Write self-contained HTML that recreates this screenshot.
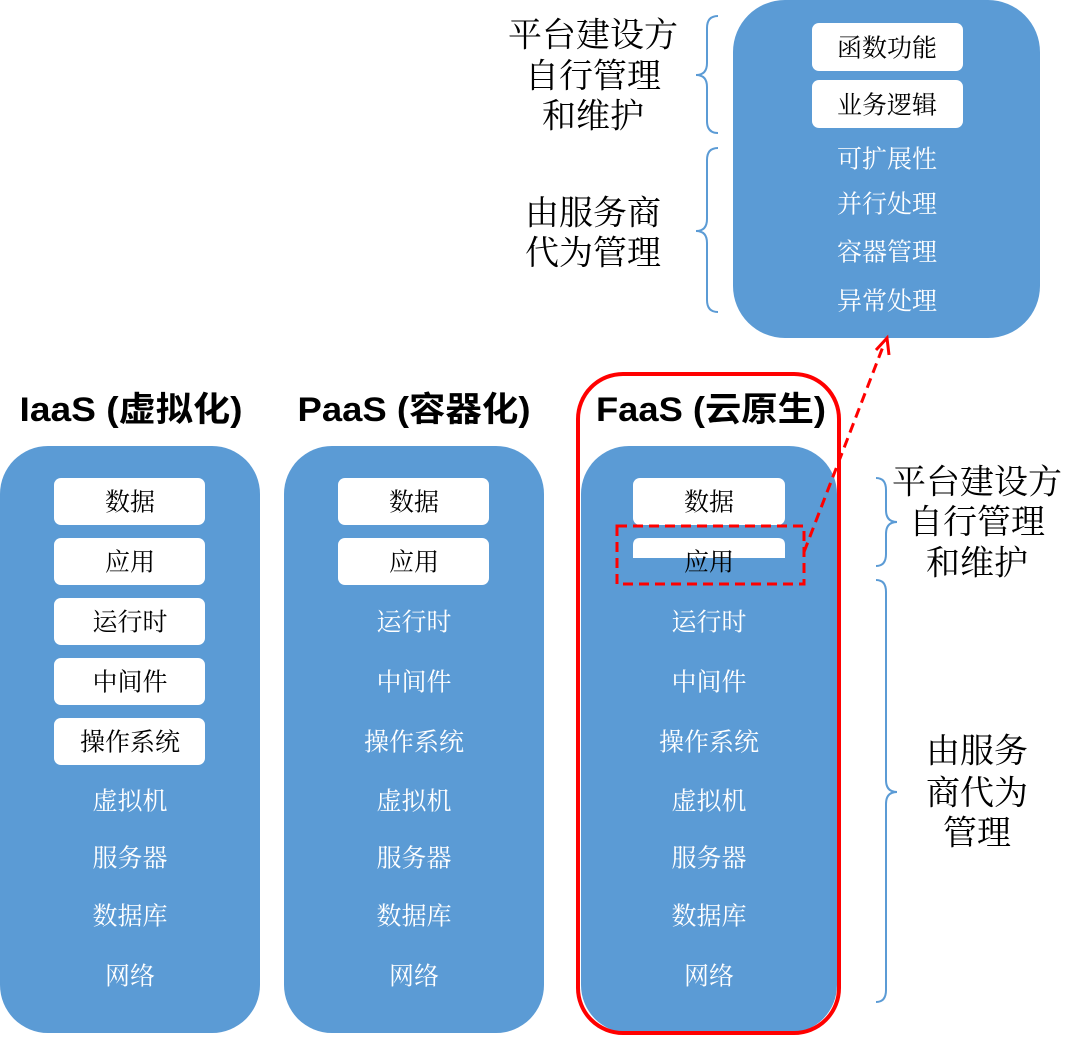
<!DOCTYPE html>
<html><head><meta charset="utf-8"><style>
html,body{margin:0;padding:0;background:#fff;}
svg text{font-family:"Liberation Serif","Noto Serif CJK SC","Noto Sans CJK SC",serif;}
.w{fill:#fff;font-size:25px;text-anchor:middle;dominant-baseline:central;}
.b{fill:#000;font-size:25px;text-anchor:middle;dominant-baseline:central;}
.t{fill:#000;font-size:34px;text-anchor:middle;font-weight:bold;font-family:"Liberation Sans","Noto Sans CJK SC",sans-serif;dominant-baseline:central;}
.l{fill:#000;font-size:34px;text-anchor:middle;dominant-baseline:central;}
</style></head><body>
<svg width="1080" height="1036" viewBox="0 0 1080 1036" xmlns="http://www.w3.org/2000/svg">
<rect x="733" y="0" width="307" height="338" rx="52" fill="#5b9bd5"/>
<rect x="812" y="23" width="151" height="48" rx="7" fill="#fff"/>
<rect x="812" y="80" width="151" height="48" rx="7" fill="#fff"/>
<g transform="translate(0,2)">
<text class="b" x="887" y="47">函数功能</text>
<text class="b" x="887" y="104">业务逻辑</text>
<text class="w" x="887" y="158">可扩展性</text>
<text class="w" x="887" y="203">并行处理</text>
<text class="w" x="887" y="251">容器管理</text>
<text class="w" x="887" y="300">异常处理</text>
<text class="l" x="593" y="34">平台建设方</text>
<text class="l" x="593" y="75">自行管理</text>
<text class="l" x="593" y="115">和维护</text>
<text class="l" x="593" y="212">由服务商</text>
<text class="l" x="593" y="252">代为管理</text>
</g>
<path d="M718 16 Q707 16 707 28 L707 63 Q707 75 696 75 Q707 75 707 87 L707 121 Q707 133 718 133" fill="none" stroke="#5b9bd5" stroke-width="2"/>
<path d="M718 148 Q707 148 707 160 L707 219 Q707 231 696 231 Q707 231 707 243 L707 300 Q707 312 718 312" fill="none" stroke="#5b9bd5" stroke-width="2"/>
<text class="t" x="131" y="410" textLength="223" lengthAdjust="spacingAndGlyphs">IaaS (虚拟化)</text>
<text class="t" x="414" y="410" textLength="233" lengthAdjust="spacingAndGlyphs">PaaS (容器化)</text>
<text class="t" x="711" y="410" textLength="230" lengthAdjust="spacingAndGlyphs">FaaS (云原生)</text>
<rect x="0" y="446" width="260" height="587" rx="48" fill="#5b9bd5"/>
<rect x="284" y="446" width="260" height="587" rx="48" fill="#5b9bd5"/>
<rect x="581" y="446" width="256" height="587" rx="48" fill="#5b9bd5"/>
<rect x="578" y="374" width="261" height="659" rx="45" fill="none" stroke="#f00" stroke-width="4"/>
<g fill="#fff">
<rect x="54" y="478" width="151" height="47" rx="7"/>
<rect x="54" y="538" width="151" height="47" rx="7"/>
<rect x="54" y="598" width="151" height="47" rx="7"/>
<rect x="54" y="658" width="151" height="47" rx="7"/>
<rect x="54" y="718" width="151" height="47" rx="7"/>
<rect x="338" y="478" width="151" height="47" rx="7"/>
<rect x="338" y="538" width="151" height="47" rx="7"/>
<rect x="633" y="478" width="152" height="47" rx="7"/>
<path d="M633 558 L633 545 Q633 538 640 538 L778 538 Q785 538 785 545 L785 558 Z"/>
</g>
<g transform="translate(0,2)">
<text class="b" x="130" y="501">数据</text>
<text class="b" x="130" y="561">应用</text>
<text class="b" x="130" y="621">运行时</text>
<text class="b" x="130" y="681">中间件</text>
<text class="b" x="130" y="741">操作系统</text>
<text class="w" x="130" y="800">虚拟机</text>
<text class="w" x="130" y="857">服务器</text>
<text class="w" x="130" y="915">数据库</text>
<text class="w" x="130" y="975">网络</text>
<text class="b" x="414" y="501">数据</text>
<text class="b" x="414" y="561">应用</text>
<text class="w" x="414" y="621">运行时</text>
<text class="w" x="414" y="681">中间件</text>
<text class="w" x="414" y="741">操作系统</text>
<text class="w" x="414" y="800">虚拟机</text>
<text class="w" x="414" y="857">服务器</text>
<text class="w" x="414" y="915">数据库</text>
<text class="w" x="414" y="975">网络</text>
<text class="b" x="709" y="501">数据</text>
<text class="b" x="709" y="561">应用</text>
<text class="w" x="709" y="621">运行时</text>
<text class="w" x="709" y="681">中间件</text>
<text class="w" x="709" y="741">操作系统</text>
<text class="w" x="709" y="800">虚拟机</text>
<text class="w" x="709" y="857">服务器</text>
<text class="w" x="709" y="915">数据库</text>
<text class="w" x="709" y="975">网络</text>
<text class="l" x="977" y="481">平台建设方</text>
<text class="l" x="977" y="521">自行管理</text>
<text class="l" x="977" y="562">和维护</text>
<text class="l" x="977" y="750">由服务</text>
<text class="l" x="977" y="792">商代为</text>
<text class="l" x="977" y="832">管理</text>
</g>
<rect x="617" y="526" width="187" height="58" fill="none" stroke="#f00" stroke-width="3" stroke-dasharray="10,6"/>
<line x1="804" y1="552" x2="884" y2="344" stroke="#f00" stroke-width="3" stroke-dasharray="10,6"/>
<path d="M876 350 L887 338 L889 355" fill="none" stroke="#f00" stroke-width="3"/>
<path d="M876 478 Q886 478 886 490 L886 510 Q886 522 897 522 Q886 522 886 534 L886 554 Q886 566 876 566" fill="none" stroke="#5b9bd5" stroke-width="2"/>
<path d="M876 580 Q886 580 886 592 L886 780 Q886 792 897 792 Q886 792 886 804 L886 990 Q886 1002 876 1002" fill="none" stroke="#5b9bd5" stroke-width="2"/>
</svg>
</body></html>
